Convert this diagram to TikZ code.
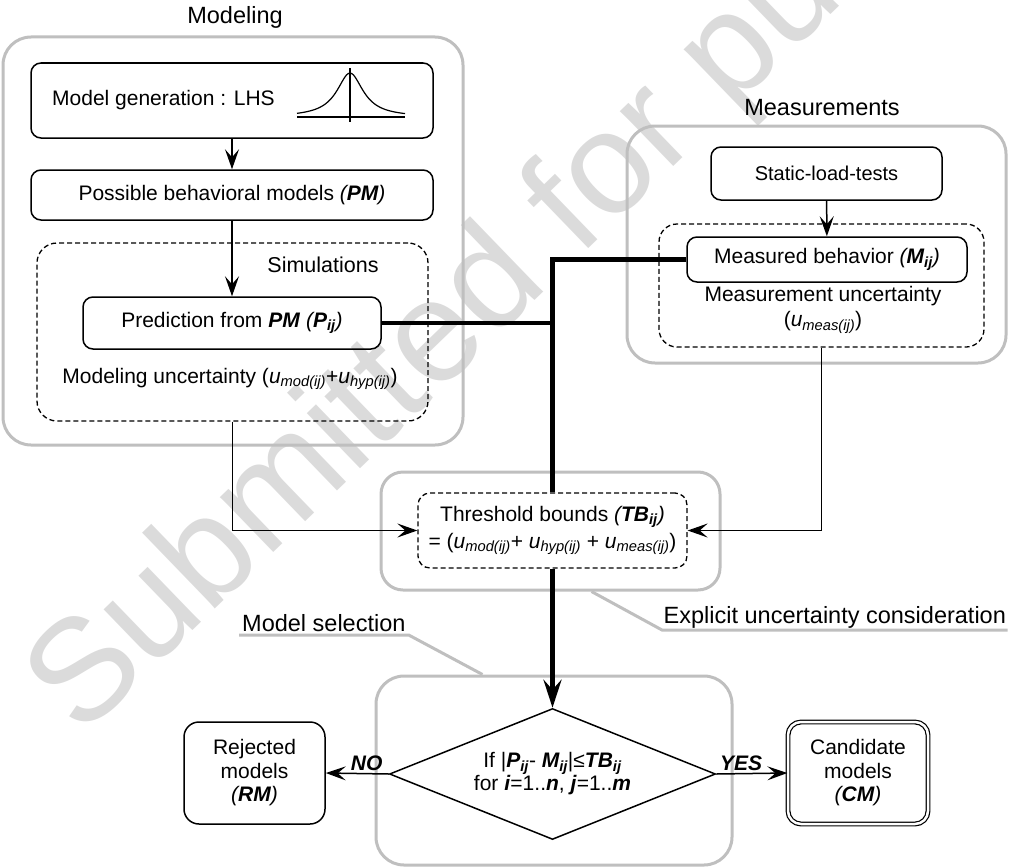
\documentclass[tikz,border=0pt]{standalone}
\usepackage{fontspec}
\setmainfont{Liberation Sans}
\usetikzlibrary{shapes,arrows.meta}
\newcommand{\ssub}[1]{\textsubscript{\itshape #1}}
\newcommand{\bi}[1]{\textbf{\textit{#1}}}

\begin{document}
\begin{tikzpicture}[%
  x=1pt,y=-1pt,
  every node/.style={font=\fontsize{21}{24}\selectfont},
  grp/.style={draw=black!25,line width=3pt,rounded corners=28pt,inner sep=0pt},
  proc/.style={draw,line width=1.5pt,rounded corners=10pt,inner sep=0pt},
  dashgrp/.style={draw,dash pattern=on 5pt off 3pt,line width=1.3pt,rounded corners=20pt,inner sep=0pt},
  title/.style={font=\fontsize{23.5}{26}\selectfont},
  conn/.style={line width=1.5pt,-{Stealth[length=20pt,width=14pt,inset=8pt]}},
  heavy/.style={line width=4.5pt},
  leader/.style={draw=black!25,line width=3pt}]
    \useasboundingbox (0,0) rectangle (1011,867);
    % Watermark
    \node[text=black!14,font=\fontsize{145}{145}\selectfont,rotate=44,anchor=base west,inner sep=0pt]
      (wmark) at (81,739) {Submitted for pu};
    % Modeling
    \node[grp,minimum width=460pt,minimum height=408pt] (modgrp) at (233,241) {};
    \node[title] (modlabel) at (235,17) {Modeling};
    \node[proc,minimum width=402pt,minimum height=75pt] (gen) at (232,100.5) {};
    \node[anchor=west,inner sep=0pt] (gentext) at (52,100) {Model generation : LHS};
    \draw[line width=1.2pt] (297,117) -- (405,117);
    \draw[line width=1.2pt] (350,68) -- (350,122);
    \draw[line width=1.2pt] plot[domain=-53:55,samples=60,smooth] ({350+\x},{117-44/(1+(\x/16)^2)});
    \node[proc,minimum width=402pt,minimum height=50pt] (pm) at (232,195)
      {Possible behavioral models \textit{(\textbf{PM})}};
    \node[dashgrp,minimum width=391pt,minimum height=178pt] (simgrp) at (232.5,332) {};
    \node[font=\fontsize{21.5}{24}\selectfont] (simlabel) at (323,265) {Simulations};
    \node[proc,minimum width=298pt,minimum height=52pt] (pred) at (232,323)
      {Prediction from \bi{PM} \textit{(\textbf{P\textsubscript{ij}})}};
    \node (moduncert) at (230,379) {Modeling uncertainty (\textit{u}\ssub{mod(ij)}+\textit{u}\ssub{hyp(ij)})};
    % Measurements
    \node[grp,minimum width=379pt,minimum height=237pt] (meagrp) at (816.5,244.5) {};
    \node[title] (mealabel) at (822,108) {Measurements};
    \node[proc,minimum width=231pt,minimum height=53pt,font=\fontsize{20}{24}\selectfont] (slt) at (826.5,173.5) {Static-load-tests};
    \node[dashgrp,rounded corners=18pt,minimum width=325pt,minimum height=123pt] (measgrp) at (821.5,285.5) {};
    \node[proc,minimum width=280pt,minimum height=45pt] (meas) at (827,259.5)
      {Measured behavior \textit{(\textbf{M\textsubscript{ij}})}};
    \node[align=center,font=\fontsize{21}{25}\selectfont] (meauncert) at (823,310)
      {Measurement uncertainty\\(\textit{u}\ssub{meas(ij)})};
    % Explicit uncertainty
    \node[grp,rounded corners=22pt,minimum width=339pt,minimum height=118pt] (expgrp) at (550.5,531) {};
    \node[dashgrp,rounded corners=12pt,minimum width=269pt,minimum height=75pt,align=center,
      font=\fontsize{21}{27}\selectfont] (tb) at (552.5,530.5)
      {Threshold bounds \textit{(\textbf{TB\textsubscript{ij}})}\\
       = (\textit{u}\ssub{mod(ij)}+ \textit{u}\ssub{hyp(ij)} + \textit{u}\ssub{meas(ij)})};
    \node[title,anchor=south west,inner sep=1.5pt] (explabel) at (662,630) {Explicit uncertainty consideration};
    % Model selection
    \node[grp,minimum width=356pt,minimum height=189pt] (selgrp) at (554,770.5) {};
    \node[title,anchor=south west,inner sep=3pt] (sellabel) at (239,635) {Model selection};
    \node[diamond,draw,line width=1.5pt,aspect=2.5,minimum width=326pt,minimum height=131pt,
      inner sep=0pt,align=center,font=\fontsize{21}{23}\selectfont] (dec) at (552.5,774)
      {If |\bi{P\textsubscript{ij}}- \bi{M\textsubscript{ij}}|≤\bi{TB\textsubscript{ij}}\\
       for \bi{i}=1..\bi{n}, \bi{j}=1..\bi{m}};
    \node[proc,rounded corners=15pt,minimum width=141pt,minimum height=102pt,align=center,
      font=\fontsize{21}{23.5}\selectfont] (rej) at (254.5,773) {Rejected\\models\\\textit{(\textbf{RM})}};
    \node[proc,double,double distance=2.5pt,line width=1.2pt,rounded corners=13pt,minimum width=140pt,
      minimum height=102pt,align=center,font=\fontsize{21}{23.5}\selectfont] (cand) at (858,773)
      {Candidate\\models\\\textit{(\textbf{CM})}};
    % Connectors
    \draw[conn] (gen) -- (pm);
    \draw[conn] (pm) -- (pred);
    \draw[conn] (slt) -- (meas);
    \draw[conn] (simgrp.south) |- (tb.west);
    \draw[conn] (measgrp.south) |- (tb.east);
    \draw[heavy] (pred.east) -- (pred.east -| tb.north);
    \draw[heavy] (meas.west) -| (tb.north);
    \draw[heavy,-{Stealth[length=28pt,width=18pt,inset=10pt]}] (tb.south) -- (dec.north);
    \draw[conn] (dec.west) -- node[above,pos=0.35,inner sep=2pt] (nolabel) {\bi{NO}} (rej.east);
    \draw[conn] (dec.east) -- node[above,pos=0.35,inner sep=2pt] (yeslabel) {\bi{YES}} (cand.west);
    % Leaders
    \draw[leader] ([xshift=212pt]expgrp.south west) -- (explabel.south west) -- (explabel.south east);
    \draw[leader] (sellabel.south west) -- (sellabel.south east) -- ([xshift=108pt]selgrp.north west);
\end{tikzpicture}
\end{document}
